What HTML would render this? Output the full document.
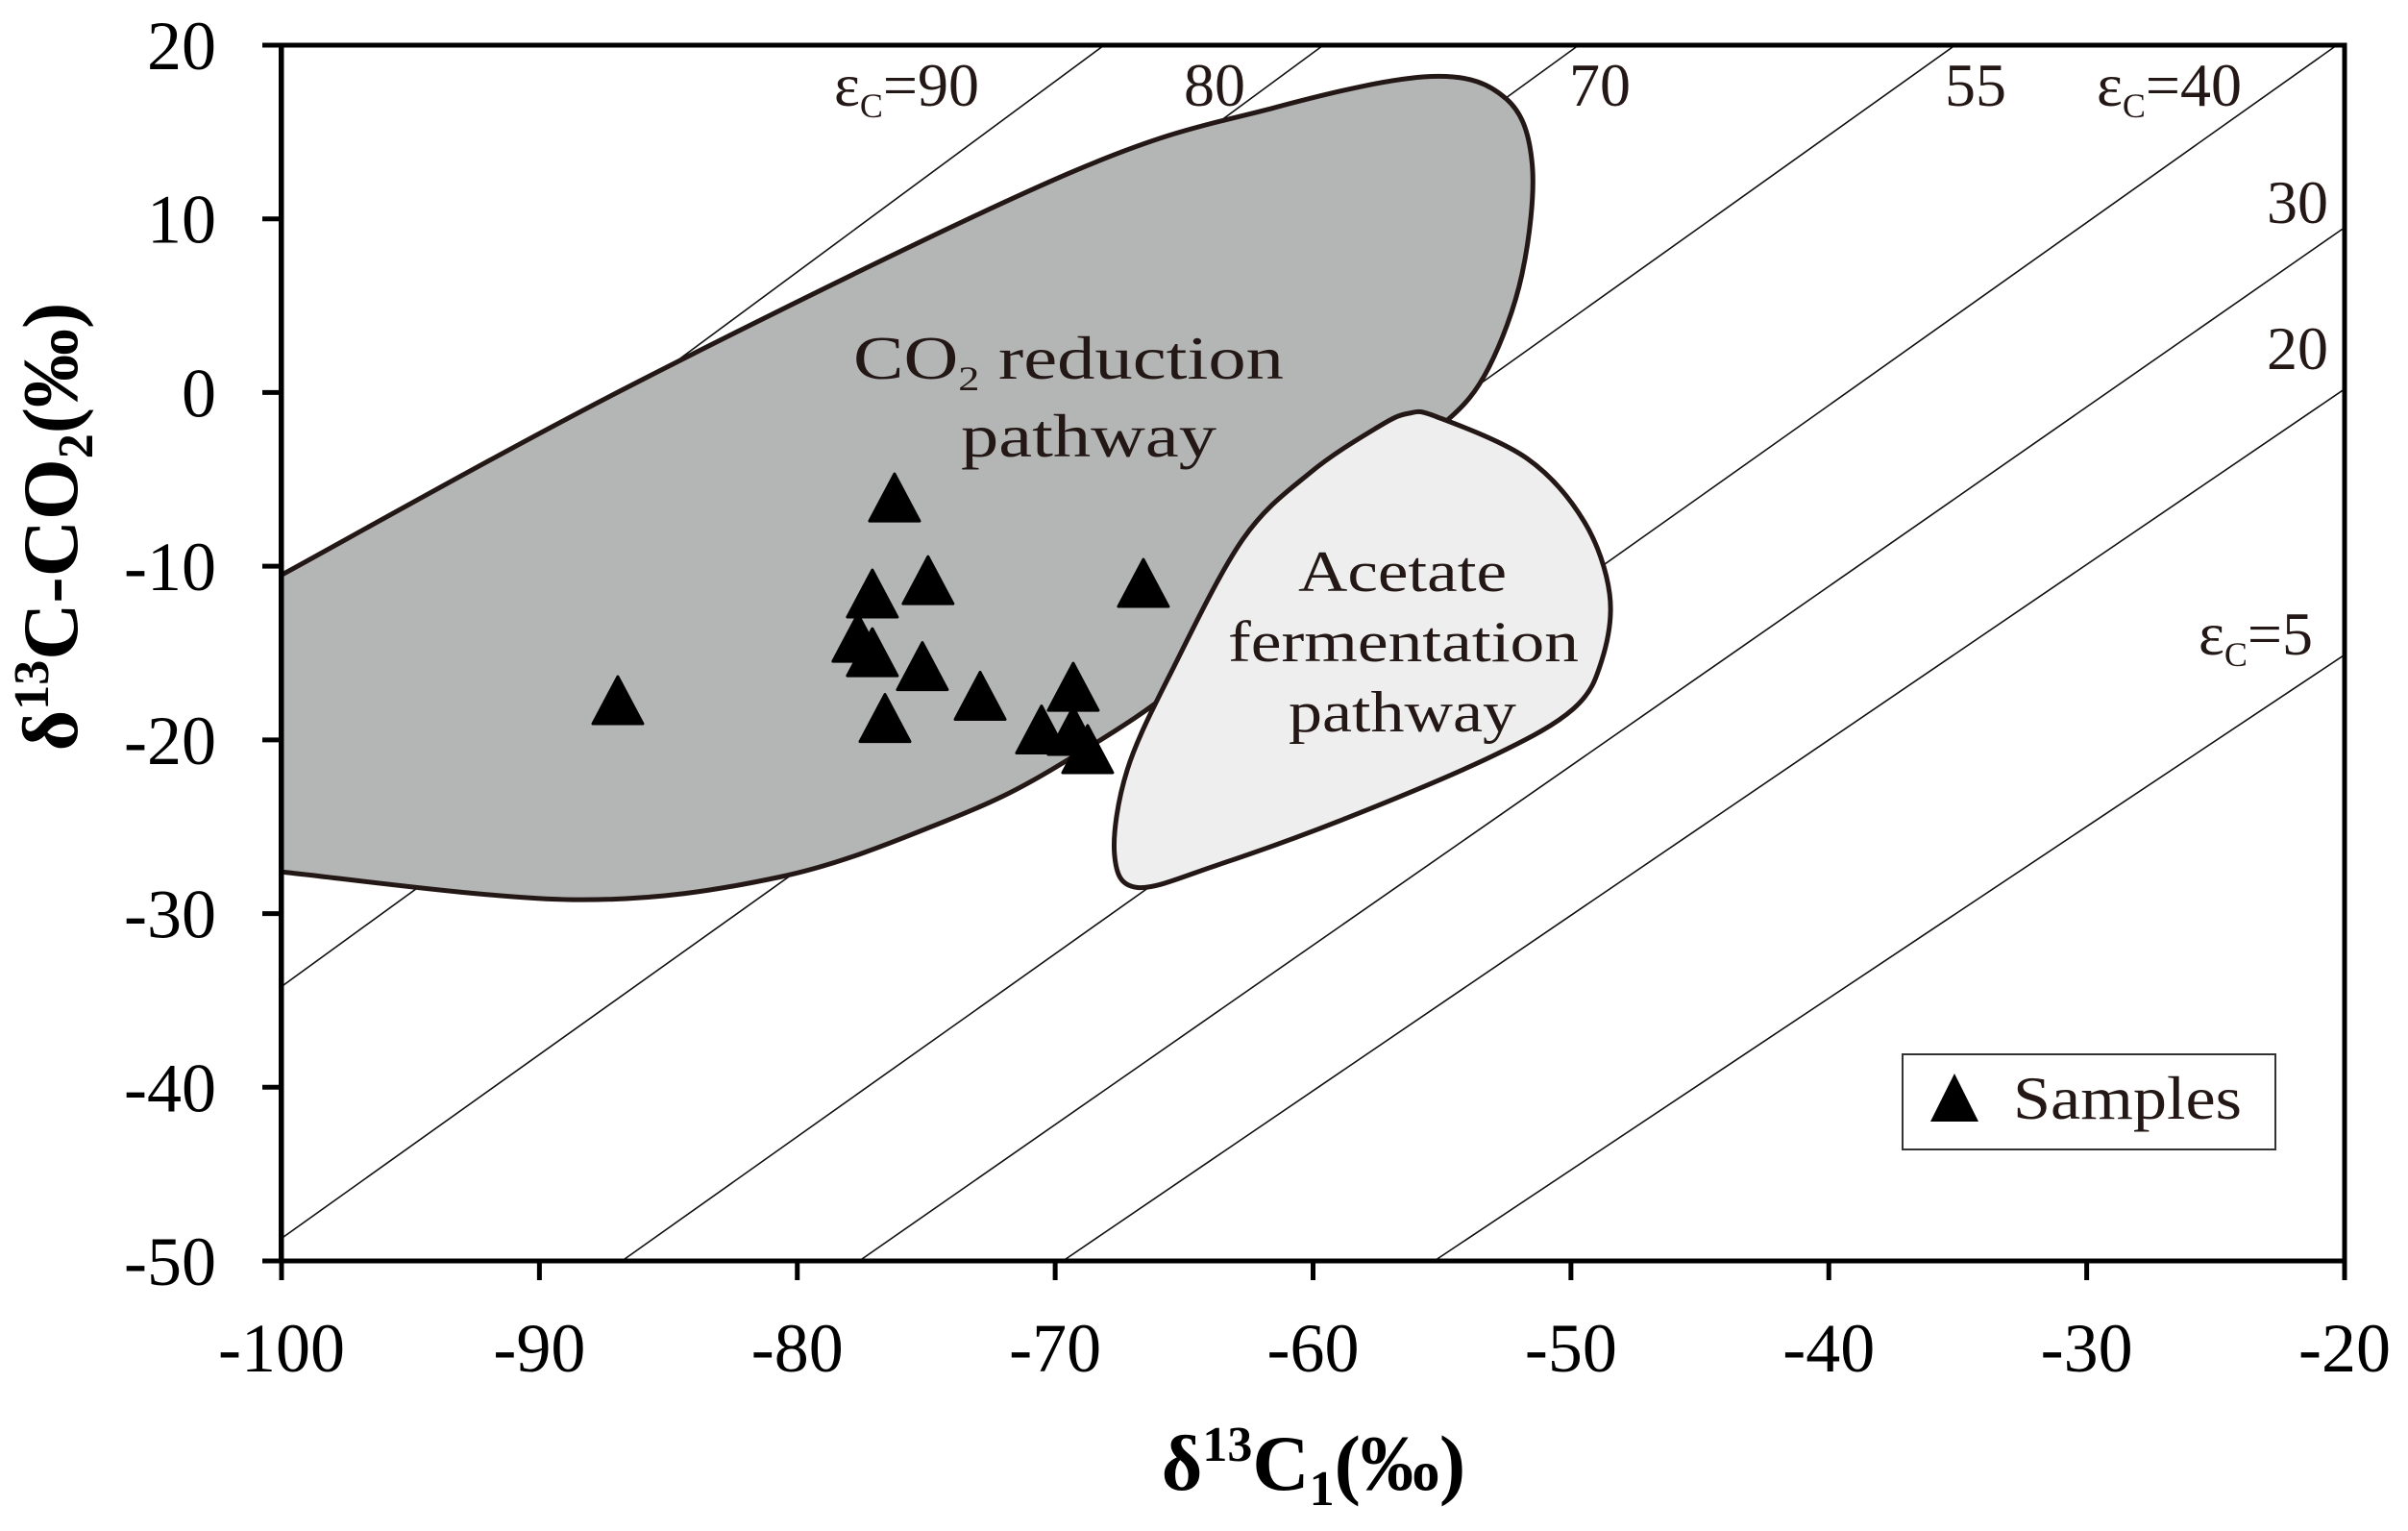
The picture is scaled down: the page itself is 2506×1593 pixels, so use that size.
<!DOCTYPE html>
<html><head><meta charset="utf-8">
<style>
html,body{margin:0;padding:0;background:#fff;}
svg{display:block;font-family:"Liberation Serif",serif;}
</style></head>
<body>
<svg id="chart" width="2506" height="1593" viewBox="0 0 2506 1593" xmlns="http://www.w3.org/2000/svg">
<rect x="0" y="0" width="2506" height="1593" fill="#fff"/>
<g id="lines"></g>
<g id="regions"></g>
<g id="labels">
<text x="888" y="394" font-size="64" fill="#231815" textLength="448" lengthAdjust="spacingAndGlyphs">CO<tspan font-size="36" dy="12">2</tspan><tspan dy="-12"> reduction</tspan></text>
<text x="1000" y="475" font-size="64" fill="#231815" textLength="266" lengthAdjust="spacingAndGlyphs">pathway</text>
<text x="1351" y="615" font-size="60" fill="#231815" textLength="217" lengthAdjust="spacingAndGlyphs">Acetate</text>
<text x="1278" y="688" font-size="60" fill="#231815" textLength="365" lengthAdjust="spacingAndGlyphs">fermentation</text>
<text x="1341" y="761" font-size="60" fill="#231815" textLength="237" lengthAdjust="spacingAndGlyphs">pathway</text>
</g>
<g id="eps-labels" font-size="64" fill="#231815">
<text x="868" y="110">ε<tspan font-size="36" dy="12">C</tspan><tspan dy="-12">=90</tspan></text>
<text x="1232" y="110">80</text>
<text x="1633" y="110">70</text>
<text x="2024" y="110">55</text>
<text x="2182" y="110">ε<tspan font-size="36" dy="12">C</tspan><tspan dy="-12">=40</tspan></text>
<text x="2359" y="232">30</text>
<text x="2359" y="384">20</text>
<text x="2288" y="681">ε<tspan font-size="36" dy="12">C</tspan><tspan dy="-12">=5</tspan></text>
</g>
<g id="points"></g>
<g id="axes"></g>
<g>
<rect x="1980" y="1097" width="388" height="99" fill="#fff" stroke="#333" stroke-width="2"/>
<polygon points="2034,1117 2059,1167 2009,1167" fill="#000"/>
<text x="2095" y="1164" font-size="64" fill="#231815" textLength="238" lengthAdjust="spacingAndGlyphs">Samples</text>
</g>
<text x="1367" y="1550" font-size="82" font-weight="bold" text-anchor="middle">δ<tspan font-size="52" dy="-30">13</tspan><tspan dy="30">C</tspan><tspan font-size="52" dy="16">1</tspan><tspan dy="-16">(‰)</tspan></text>
<text transform="translate(80,548) rotate(-90)" font-size="82" font-weight="bold" text-anchor="middle">δ<tspan font-size="52" dy="-30">13</tspan><tspan dy="30">C-CO</tspan><tspan font-size="52" dy="16">2</tspan><tspan dy="-16">(‰)</tspan></text>
</svg>
<script>
// Axis domains
const xTicks = [-100, -90, -80, -70, -60, -50, -40, -30, -20];
const yTicks = [20, 10, 0, -10, -20, -30, -40, -50];
// Epsilon lines: label values and two endpoints each (data coords)
const epsValues = [5, 20, 30, 40, 55, 70, 80, 90];
const epsX1 = [-55.3, -69.7, -77.6, -86.8, -100, -100, -100, -100];
const epsY1 = [-50, -50, -50, -50, -48.7, -34.2, -24.1, -15.0];
const epsX2 = [-20, -20, -20, -20.3, -35.1, -49.7, -59.6, -68.1];
const epsY2 = [-15.1, 0.2, 9.5, 20, 20, 20, 20, 20];
// Sample points
const sampleX = [-86.96, -76.23, -74.93, -77.09, -66.58, -77.65, -77.09, -75.15, -72.91, -69.30, -76.6, -70.53, -69.30, -68.74];
const sampleY = [-17.74, -6.07, -10.83, -11.6, -10.99, -14.15, -14.98, -15.78, -17.49, -16.97, -18.77, -19.43, -19.51, -20.56];
// Region outlines (data coords)
const co2RegionX = [-100, -86.2, -69.5, -61.5, -55.4, -52.5, -51.5, -51.9, -53.2, -54.8, -57.2, -62.4, -64.7, -69.9, -74.3, -80.7, -88.7, -100];
const co2RegionY = [-10.5, 0.6, 12.6, 16.4, 18.2, 16.9, 13.1, 6.8, 1.4, -1.6, -3.7, -9.8, -16.1, -21.5, -24.7, -27.9, -29.2, -27.6];
const acetRegionX = [-56.3, -55.2, -51.7, -49.5, -48.5, -48.8, -49.9, -53.0, -58.7, -63.7, -66.8, -67.7, -67.2, -65.4, -62.7, -60.1, -57.5];
const acetRegionY = [-1.2, -1.4, -3.8, -7.4, -11.6, -15.4, -18.2, -20.9, -24.5, -27.2, -28.5, -26.6, -21.7, -15.8, -8.4, -4.6, -2.0];

const L=293, R=2440, T=47, B=1312;
function sx(v){return L+(v+100)/80*(R-L);}
function sy(v){return T+(20-v)/70*(B-T);}
const NS='http://www.w3.org/2000/svg';
function mk(tag, attrs, parent){const e=document.createElementNS(NS,tag);for(const k in attrs)e.setAttribute(k,attrs[k]);parent.appendChild(e);return e;}

const gl=document.getElementById('lines');
for(let i=0;i<epsValues.length;i++){
  const ln=mk('line',{x1:sx(epsX1[i]),y1:sy(epsY1[i]),x2:sx(epsX2[i]),y2:sy(epsY2[i]),stroke:'#111','stroke-width':1.6},gl);
  
  
}
const gr=document.getElementById('regions');
function smoothPath(xs,ys,closed){
  const p=xs.map((x,i)=>[sx(x),sy(ys[i])]);const n=p.length;let d='M'+p[0][0]+','+p[0][1];
  for(let i=0;i<n-(closed?0:1);i++){
    const p0=p[(i-1+n)%n],p1=p[i],p2=p[(i+1)%n],p3=p[(i+2)%n];
    const a0=(!closed&&i===0)?p1:p0, a3=(!closed&&i===n-2)?p2:p3;
    const c1=[p1[0]+(p2[0]-a0[0])/6,p1[1]+(p2[1]-a0[1])/6];
    const c2=[p2[0]-(a3[0]-p1[0])/6,p2[1]-(a3[1]-p1[1])/6];
    d+=' C'+c1[0]+','+c1[1]+' '+c2[0]+','+c2[1]+' '+p2[0]+','+p2[1];
  }
  return d;
}
const co2=mk('path',{d:smoothPath(co2RegionX,co2RegionY,false)+' Z',fill:'#b4b5b5',stroke:'#231815','stroke-width':5},gr);


const ac=mk('path',{d:smoothPath(acetRegionX,acetRegionY,true)+' Z',fill:'#eeeeef',stroke:'#231815','stroke-width':5},gr);


mk('rect',{x:L-3,y:T,width:3,height:B-T,fill:'#000'},gr);

const gp=document.getElementById('points');
for(let i=0;i<sampleX.length;i++){
  const cx=sx(sampleX[i]), cy=sy(sampleY[i]);
  const t=mk('polygon',{points:(cx)+','+(cy-25)+' '+(cx+26)+','+(cy+24)+' '+(cx-26)+','+(cy+24),fill:'#000',stroke:'#000','stroke-width':3,'stroke-linejoin':'round'},gp);
  
  
}
const ga=document.getElementById('axes');
const frame=mk('rect',{x:L,y:T,width:R-L,height:B-T,fill:'none',stroke:'#000','stroke-width':5},ga);


xTicks.forEach(v=>{
  const x=sx(v);
  const tk=mk('line',{x1:x,y1:B,x2:x,y2:B+20,stroke:'#000','stroke-width':5},ga);
  
  
  const t=mk('text',{x:x,y:1427,'font-size':72,'text-anchor':'middle',fill:'#000'},ga);
  t.textContent=String(v);
  
  
});
yTicks.forEach(v=>{
  const y=sy(v);
  const tk=mk('line',{x1:L-20,y1:y,x2:L,y2:y,stroke:'#000','stroke-width':5},ga);
  
  
  const t=mk('text',{x:225,y:y+25,'font-size':72,'text-anchor':'end',fill:'#000'},ga);
  t.textContent=String(v);
  
  
});
</script>
</body></html>
